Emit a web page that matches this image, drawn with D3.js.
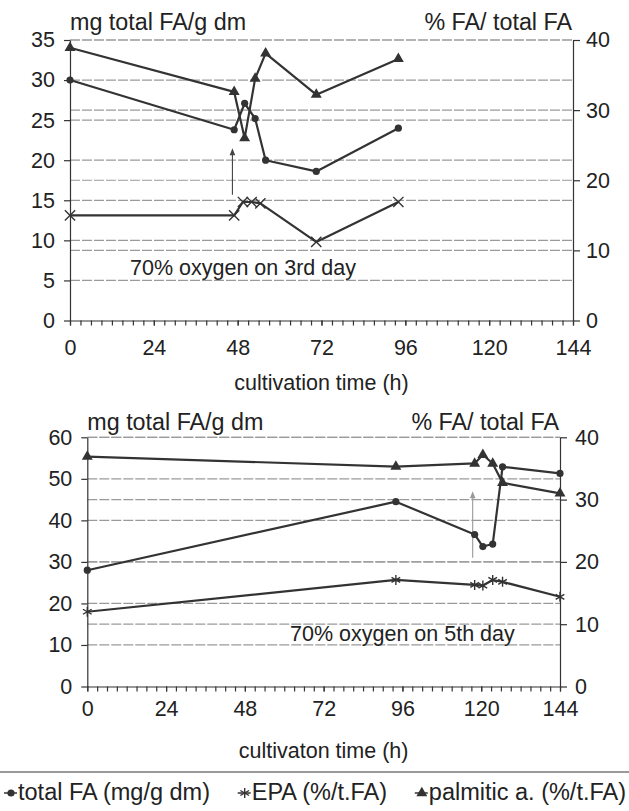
<!DOCTYPE html>
<html>
<head>
<meta charset="utf-8">
<script src="https://cdn.jsdelivr.net/npm/d3@7"></script>
<style>
  html, body { margin: 0; padding: 0; background: #fff; }
  svg { display: block; }
  text { font-family: "Liberation Sans", Arial, sans-serif; fill: #222; }
</style>
</head>
<body>
<svg id="chart" width="629" height="811"></svg>
<script>
// ---------- DATA ----------
// Top panel: 70% oxygen on 3rd day
const topTime      = [0, 47, 50, 53, 56, 70.5, 94];
const topEpaTime   = [0, 47, 49.5, 52, 54.5, 70.5, 94];
const topTotalFA   = [30.0, 23.8, 27.1, 25.2, 20.0, 18.6, 24.0];   // mg/g dm (left axis)
const topEPA       = [15.0, 15.0, 16.9, 16.9, 16.7, 11.2, 16.9];   // % of total FA (right axis)
const topPalmitic  = [38.9, 32.6, 26.0, 34.5, 38.1, 32.2, 37.3];   // % of total FA (right axis)

// Bottom panel: 70% oxygen on 5th day
const botTime      = [0, 94, 118, 120.5, 123.5, 126.5, 144];
const botTotalFA   = [28.0, 44.5, 36.6, 33.7, 34.3, 52.9, 51.3];
const botEPA       = [12.0, 17.1, 16.3, 16.2, 17.1, 16.8, 14.4];
const botPalmitic  = [36.9, 35.3, 35.8, 37.2, 35.8, 32.7, 31.0];

const xTicks        = [0, 24, 48, 72, 96, 120, 144];
const topLeftTicks  = [0, 5, 10, 15, 20, 25, 30, 35];
const botLeftTicks  = [0, 10, 20, 30, 40, 50, 60];
const rightTicks    = [0, 10, 20, 30, 40];

const leftTitle   = "mg total FA/g dm";
const rightTitle  = "% FA/ total FA";
const topXTitle   = "cultivation time (h)";
const botXTitle   = "cultivaton time (h)";
const topNote     = "70% oxygen on 3rd day";
const botNote     = "70% oxygen on 5th day";
const legendLabels = ["total FA (mg/g dm)", "EPA (%/t.FA)", "palmitic a. (%/t.FA)"];

// ---------- DRAW ----------
const svg = d3.select("#chart");
const FS = 21.5;      // tick labels, axis titles, notes
const FS_T = 23.3;    // axis unit titles
const FS_L = 23.5;    // legend
const ink = "#333";
const gridColor = "#9a9a9a";

function panel(cfg) {
  const x = d3.scaleLinear().domain([0, 144]).range([cfg.x0, cfg.x1]);
  const yL = d3.scaleLinear().domain([0, cfg.leftMax]).range([cfg.y0, cfg.y1]);
  const yR = d3.scaleLinear().domain([0, 40]).range([cfg.y0, cfg.y1]);
  const g = svg.append("g");

  // gridlines (left + right tick positions)
  const gridYs = cfg.leftTicks.filter(d => d > 0).map(d => yL(d))
    .concat(rightTicks.filter(d => d > 0).map(d => yR(d)));
  g.selectAll(".grid").data(gridYs).join("line")
    .attr("x1", cfg.x0).attr("x2", cfg.x1)
    .attr("y1", d => d).attr("y2", d => d)
    .attr("stroke", gridColor).attr("stroke-width", 1.2)
    .attr("stroke-dasharray", "10,2");

  // axes
  const styleAxis = sel => {
    sel.selectAll("path").attr("stroke", ink).attr("stroke-width", 1.2);
    sel.selectAll("line").attr("stroke", ink).attr("stroke-width", 1.2);
    sel.selectAll("text").attr("font-size", FS).attr("fill", "#222")
      .attr("font-family", '"Liberation Sans", Arial, sans-serif');
  };
  g.append("g").attr("transform", `translate(${cfg.x0},0)`)
    .call(d3.axisLeft(yL).tickValues(cfg.leftTicks).tickSize(6).tickSizeOuter(0).tickPadding(9))
    .call(styleAxis);
  g.append("g").attr("transform", `translate(${cfg.x1},0)`)
    .call(d3.axisRight(yR).tickValues(rightTicks).tickSize(7).tickSizeOuter(0).tickPadding(cfg.rPad))
    .call(styleAxis);
  g.append("g").attr("transform", `translate(0,${cfg.y0})`)
    .call(d3.axisBottom(x).tickValues(d3.range(0, 145, 3)).tickSize(5).tickSizeOuter(0).tickFormat(""))
    .call(styleAxis);
  g.append("g").attr("transform", `translate(0,${cfg.y0})`)
    .call(d3.axisBottom(x).tickValues(xTicks).tickSize(5).tickSizeOuter(0).tickPadding(cfg.xPad))
    .call(styleAxis)
    .call(s => s.select("path").remove());

  // titles
  g.append("text").attr("x", cfg.x0).attr("y", cfg.titleY).attr("font-size", FS_T).text(leftTitle);
  g.append("text").attr("x", cfg.x1 - 1).attr("y", cfg.titleY).attr("font-size", FS_T)
    .attr("text-anchor", "end").text(rightTitle);
  g.append("text").attr("x", (cfg.x0 + cfg.x1) / 2).attr("y", cfg.xTitleY).attr("font-size", FS)
    .attr("text-anchor", "middle").text(cfg.xTitle);

  // annotation
  g.append("text").attr("x", cfg.noteX).attr("y", cfg.noteY).attr("font-size", FS).text(cfg.note);
  const ax = x(cfg.arrowT), ayTop = yL(cfg.arrowTo), ayBot = yL(cfg.arrowFrom);
  g.append("line").attr("x1", ax).attr("x2", ax).attr("y1", ayBot).attr("y2", ayTop + 5)
    .attr("stroke", cfg.arrowColor).attr("stroke-width", 1.1);
  g.append("path").attr("d", `M${ax},${ayTop} L${ax - 2.8},${ayTop + 7} L${ax + 2.8},${ayTop + 7} Z`)
    .attr("fill", cfg.arrowColor);

  // series
  const line = (xs, ys, yScale) => d3.line()(xs.map((t, i) => [x(t), yScale(ys[i])]));
  const series = [
    { t: cfg.time, v: cfg.total, y: yL, sym: "circle" },
    { t: cfg.epaTime, v: cfg.epa, y: yR, sym: cfg.epaSym },
    { t: cfg.time, v: cfg.palm, y: yR, sym: "triangle" }
  ];
  series.forEach(s => {
    g.append("path").attr("d", line(s.t, s.v, s.y)).attr("fill", "none")
      .attr("stroke", ink).attr("stroke-width", 2.2).attr("stroke-linejoin", "round");
    s.t.forEach((t, i) => drawMarker(g, s.sym, x(t), s.y(s.v[i])));
  });
}

function drawMarker(g, sym, cx, cy) {
  if (sym === "circle") {
    g.append("circle").attr("cx", cx).attr("cy", cy).attr("r", 3.6).attr("fill", ink);
  } else if (sym === "triangle") {
    g.append("path").attr("transform", `translate(${cx},${cy})`)
      .attr("d", d3.symbol(d3.symbolTriangle, 52)()).attr("fill", ink);
  } else if (sym === "times") {
    g.append("path").attr("transform", `translate(${cx},${cy})`)
      .attr("d", d3.symbol(d3.symbolTimes, 70)()).attr("fill", "none")
      .attr("stroke", ink).attr("stroke-width", 1.4);
  } else {
    g.append("path").attr("transform", `translate(${cx},${cy})`)
      .attr("d", d3.symbol(d3.symbolAsterisk, 70)()).attr("fill", "none")
      .attr("stroke", ink).attr("stroke-width", 1.4);
  }
}

panel({
  x0: 70, x1: 573, y0: 320.5, y1: 40, leftMax: 35, leftTicks: topLeftTicks,
  rPad: 6, xPad: 14, titleY: 30, xTitleY: 390, xTitle: topXTitle,
  note: topNote, noteX: 130, noteY: 275,
  arrowT: 46.5, arrowFrom: 15.7, arrowTo: 21.5, arrowColor: "#444",
  time: topTime, epaTime: topEpaTime, total: topTotalFA, epa: topEPA, palm: topPalmitic, epaSym: "times"
});
panel({
  x0: 87.3, x1: 560, y0: 686.5, y1: 437.3, leftMax: 60, leftTicks: botLeftTicks,
  rPad: 8, xPad: 9, titleY: 430, xTitleY: 758, xTitle: botXTitle,
  note: botNote, noteX: 290, noteY: 641,
  arrowT: 117.4, arrowFrom: 31, arrowTo: 47, arrowColor: "#999",
  time: botTime, epaTime: botTime, total: botTotalFA, epa: botEPA, palm: botPalmitic, epaSym: "asterisk"
});

// ---------- LEGEND ----------
svg.append("line").attr("x1", 0).attr("x2", 629).attr("y1", 772).attr("y2", 772)
  .attr("stroke", "#777").attr("stroke-width", 1.5);
const lg = svg.append("g");
const legY = 800, symW = 14, startX = 4, endX = 626;
const syms = ["circle", "asterisk", "triangle"];
const texts = legendLabels.map(l => lg.append("text").attr("y", legY).attr("font-size", FS_L).text(l));
const widths = texts.map(t => t.node().getComputedTextLength());
const gap = Math.max(6, (endX - startX - 3 * symW - d3.sum(widths)) / 2);
let cx = startX;
texts.forEach((t, i) => {
  const my = legY - 7;
  lg.append("line").attr("x1", cx).attr("x2", cx + symW - 1).attr("y1", my).attr("y2", my)
    .attr("stroke", ink).attr("stroke-width", 1.5);
  drawMarker(lg, syms[i], cx + symW / 2, my);
  t.attr("x", cx + symW);
  cx += symW + widths[i] + gap;
});
</script>
</body>
</html>
